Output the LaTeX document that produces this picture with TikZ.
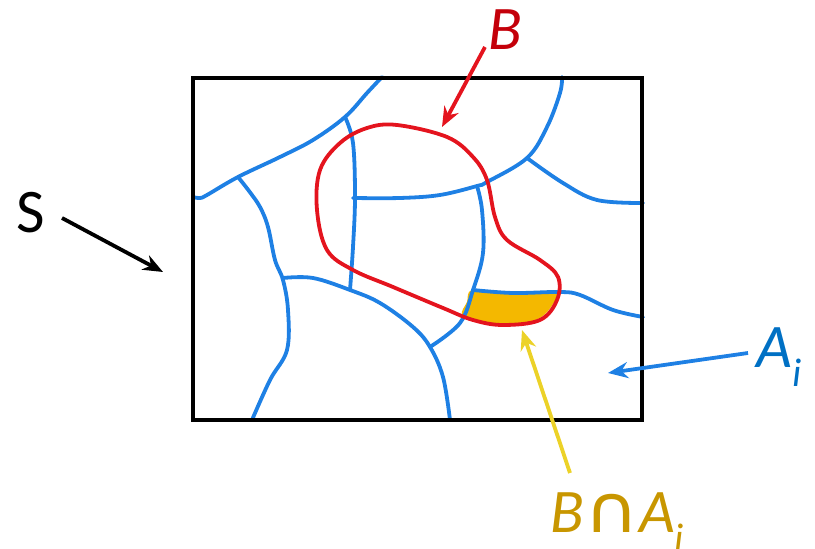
\documentclass[tikz,border=0pt]{standalone}
\usepackage{fontspec}
\setmainfont{Carlito}
\newfontfamily\capfont{DejaVu Sans}
\usetikzlibrary{arrows.meta}

\definecolor{partblue}{RGB}{30,128,228}
\definecolor{setred}{RGB}{228,20,30}
\definecolor{labred}{RGB}{196,0,10}
\definecolor{labblue}{RGB}{0,112,196}
\definecolor{labgold}{RGB}{200,150,0}
\definecolor{arrgold}{RGB}{236,210,40}
\definecolor{meetfill}{RGB}{244,184,0}

\newcommand\sub[1]{\raisebox{-0.3em}{\fontsize{20}{20}\selectfont\itshape #1}}

\begin{document}
\begin{tikzpicture}[x=0.5pt,y=-0.5pt,
  part/.style={draw=partblue, line width=1.9pt, line cap=round, line join=round},
  lbl/.style={inner sep=0pt, font=\fontsize{31}{31}\selectfont},
  pointer/.style={line width=1.9pt, -{Stealth[length=10pt,width=8pt]}}
]
  \useasboundingbox (0,0) rectangle (815,549);

  % the intersection, filled first
  \fill[meetfill] plot[smooth cycle, tension=0.6] coordinates {(473,290) (513,293) (556,292) (553,304) (540,318) (518,324) (498,325) (478,321) (462,315) (467,302)};

  % the partition A_i
  \draw[part] plot[smooth, tension=0.6] coordinates {(193,197) (200,198) (207,195) (238,177) (280,157) (313,140) (345,117) (367,93) (382,77)};
  \draw[part] plot[smooth, tension=0.6] coordinates {(238,177) (249,191) (260,207) (268,227) (275,260) (283,280) (288,310) (287,350) (270,380) (252,420)};
  \draw[part] plot[smooth, tension=0.6] coordinates {(345,117) (353,143) (355,197) (353,247) (350,290)};
  \draw[part] plot[smooth, tension=0.6] coordinates {(283,278) (313,278) (350,290) (380,303) (413,327) (430,347) (443,377) (450,420)};
  \draw[part] plot[smooth, tension=0.6] coordinates {(353,198) (400,198) (440,195) (477,186) (487,182) (527,158) (547,127) (560,93) (562,77)};
  \draw[part] plot[smooth, tension=0.6] coordinates {(527,158) (563,183) (597,200) (643,203)};
  \draw[part] plot[smooth, tension=0.6] coordinates {(477,186) (482,210) (483,253) (473,290) (460,323) (430,347)};
  \draw[part] plot[smooth, tension=0.6] coordinates {(473,290) (513,293) (560,292) (580,295) (613,310) (643,317)};

  % the set B
  \draw[setred, line width=1.9pt] plot[smooth cycle, tension=0.6] coordinates {(397,125) (447,137) (473,157) (487,180) (495,217) (507,240) (540,260) (558,277) (557,300) (540,320) (503,325) (473,320) (443,308) (393,287) (353,270) (327,250) (317,210) (320,170) (340,143) (367,128)};

  % the space S
  \draw[line width=2pt] (193,78) rectangle (642,420);

  % labels
  \node[lbl] (S) at (31,213) {S};
  \node[lbl, text=labred] (B) at (505,30) {\itshape B};
  \node[lbl, text=labblue, anchor=base west] (A) at (756,368) {\itshape A\sub{i}};
  \node[lbl, text=labgold, anchor=base west] (BA) at (550,533) {\itshape B{\capfont\fontsize{30}{30}\selectfont\scalebox{1.25}[1.1]{∩}}A\sub{i}};

  \coordinate (sFrom) at (62,218);  \coordinate (sTo) at (163,272);
  \coordinate (bFrom) at (485,47);  \coordinate (bTo) at (442,127);
  \coordinate (aFrom) at (748,353); \coordinate (aTo) at (608,373);
  \coordinate (mFrom) at (570,473); \coordinate (mTo) at (522,330);

  \draw[pointer, black] (sFrom) -- (sTo);
  \draw[pointer, setred] (bFrom) -- (bTo);
  \draw[pointer, partblue] (aFrom) -- (aTo);
  \draw[pointer, arrgold] (mFrom) -- (mTo);
\end{tikzpicture}
\end{document}
